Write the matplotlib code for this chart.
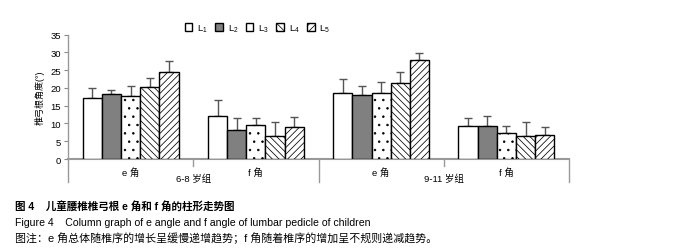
import matplotlib
matplotlib.use("Agg")
import matplotlib.pyplot as plt
import numpy as np

plt.rcParams['font.family'] = ['Liberation Sans', 'Noto Sans CJK SC']
plt.rcParams['mathtext.fontset'] = 'custom'
plt.rcParams['mathtext.rm'] = 'Liberation Sans'
plt.rcParams['mathtext.it'] = 'Liberation Sans'
plt.rcParams['hatch.linewidth'] = 0.55

groups = ["e 角", "f 角", "e 角", "f 角"]
age_groups = ["6-8 岁组", "9-11 岁组"]
series = ["L$_1$", "L$_2$", "L$_3$", "L$_4$", "L$_5$"]
# values per series across the 4 groups
means = {
    "L1": [17.1, 12.0, 18.5, 9.3],
    "L2": [18.2, 8.1, 17.9, 9.3],
    "L3": [17.7, 9.5, 18.5, 7.2],
    "L4": [20.2, 6.5, 21.3, 6.5],
    "L5": [24.4, 8.9, 27.9, 6.8],
}
errors = {
    "L1": [2.8, 4.7, 3.9, 2.2],
    "L2": [1.3, 3.5, 2.7, 2.9],
    "L3": [2.9, 2.0, 3.3, 2.0],
    "L4": [2.5, 3.8, 3.1, 3.9],
    "L5": [3.1, 3.0, 2.0, 2.1],
}
yticks = [0, 5, 10, 15, 20, 25, 30, 35]

W, H = 683, 253
fig = plt.figure(figsize=(W/100, H/100), dpi=100)
ax = fig.add_axes([68/W, 1-160/H, (569-68)/W, (160-35.7)/H])

styles = [
    dict(color="white", hatch=None),
    dict(color="#808080", hatch=None),
    dict(color="white", hatch=".."),
    dict(color="white", hatch="\\\\\\\\\\"),
    dict(color="white", hatch="/////"),
]
bw = 0.153
x = np.arange(len(groups))
keys = list(means.keys())
for i, k in enumerate(keys):
    pos = x + (i - 2) * bw
    ax.bar(pos, means[k], width=bw, color=styles[i]["color"], hatch=styles[i]["hatch"],
           edgecolor="black", linewidth=1.0, label=series[i], zorder=3,
           yerr=[np.zeros(4), errors[k]],
           error_kw=dict(ecolor="#555555", elinewidth=1.0, capsize=3, capthick=1.0, zorder=2))

ax.set_xlim(-0.5, 3.5)
ax.set_ylim(0, 35)
ax.set_yticks(yticks)
ax.tick_params(axis='y', direction='out', length=3, width=0.8, colors='#888888', labelsize=6.8,
               labelcolor='black', pad=2)
ax.set_xticks([])
for s in ['top', 'right']:
    ax.spines[s].set_visible(False)
ax.spines['left'].set_color('#999999')
ax.spines['bottom'].set_color('#999999')
ax.spines['left'].set_linewidth(1.0)
ax.spines['bottom'].set_linewidth(1.5)
ax.spines['bottom'].set_zorder(1)

ax.set_ylabel("椎弓根角度(°)", fontsize=6.5, labelpad=4)

# category structure below the axis
tr = ax.get_xaxis_transform()
for xv in [-0.5, 1.5, 3.5]:
    ax.plot([xv, xv], [0, -0.185], transform=tr, color='#999999', lw=1.0, clip_on=False)
for xv in [0.5, 2.5]:
    ax.plot([xv, xv], [0, -0.06], transform=tr, color='#999999', lw=1.0, clip_on=False)
for xi, g in zip(x, groups):
    ax.text(xi, -0.105, g, transform=tr, ha='center', va='center', fontsize=6.8)
for j, a in enumerate(age_groups):
    ax.text(0.5 + 2*j, -0.15, a, transform=tr, ha='center', va='center', fontsize=6.8)

fig.legend(loc='center left', bbox_to_anchor=(181/W, 1-29/H), ncol=5, frameon=False,
           fontsize=6.8, handlelength=0.8, handleheight=0.8, handletextpad=0.5,
           columnspacing=0.8, borderaxespad=0)

fig.text(15/W, 1-207.5/H, "图 4    儿童腰椎椎弓根 e 角和 f 角的柱形走势图", fontsize=7.6,
         va='center', ha='left', fontweight='semibold')
fig.text(15/W, 1-223/H, "Figure 4    Column graph of e angle and f angle of lumbar pedicle of children",
         fontsize=7.55, va='center', ha='left')
fig.text(15/W, 1-238/H, "图注：e 角总体随椎序的增长呈缓慢递增趋势；f 角随着椎序的增加呈不规则递减趋势。",
         fontsize=7.9, va='center', ha='left')

fig.savefig("out.png", dpi=100)
